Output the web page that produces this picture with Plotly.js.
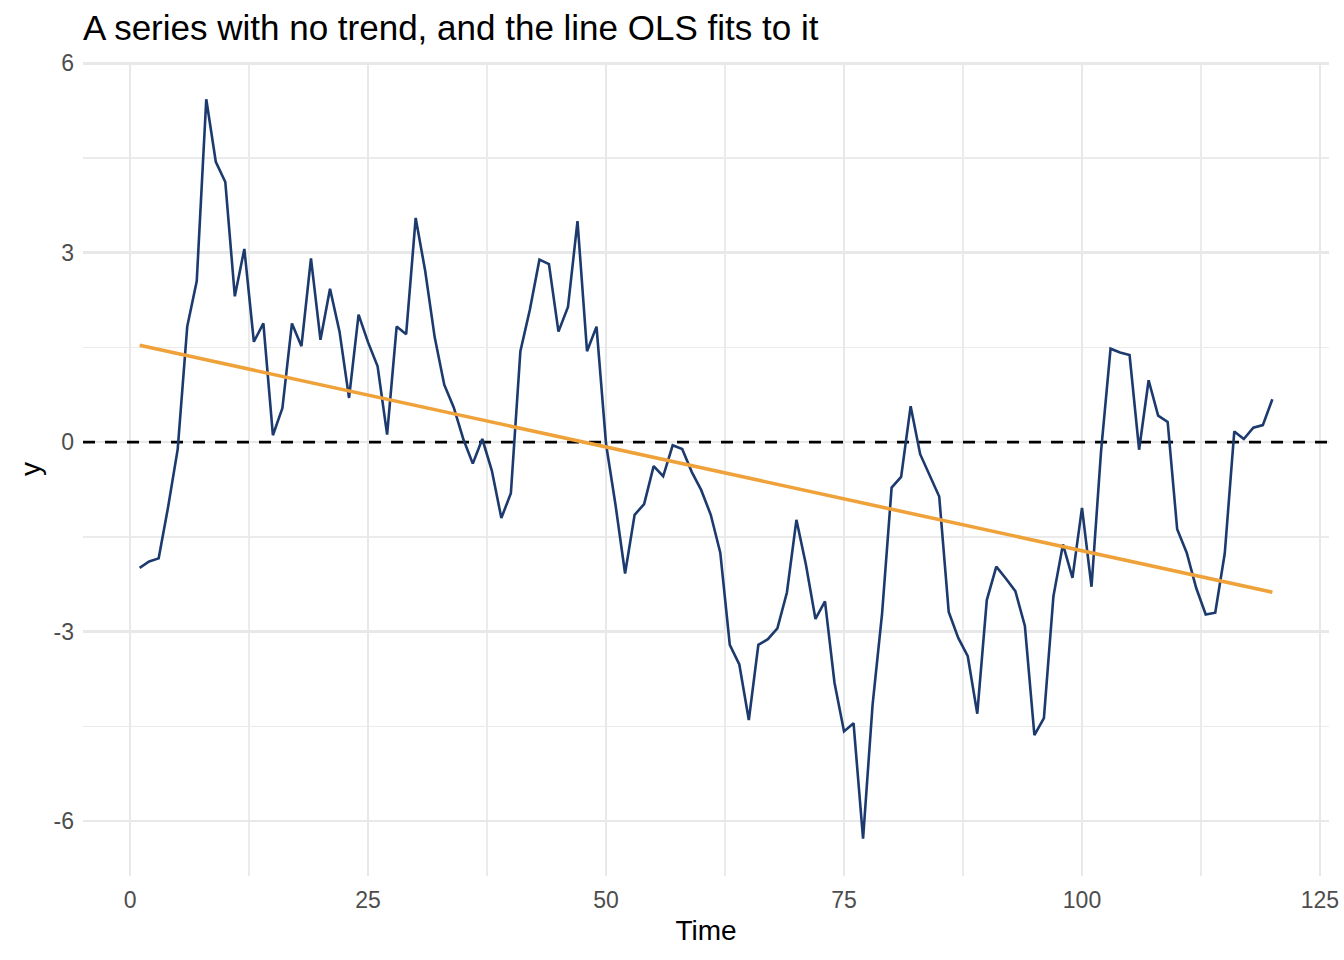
<!DOCTYPE html>
<html>
<head>
<meta charset="utf-8">
<script src="https://cdn.plot.ly/plotly-3.0.1.min.js"></script>
<style>
  body { margin: 0; background: #fff; }
  #chart { width: 1344px; height: 960px; }
</style>
</head>
<body>
<div id="chart"></div>
<script>
// series values, time = 1..120
const time = [];
for (let i = 1; i <= 120; i++) time.push(i);

const y = [
  -1.99, -1.89, -1.84, -1.02, -0.11, 1.83, 2.55, 5.43, 4.44, 4.12,
  2.31, 3.06, 1.59, 1.88, 0.11, 0.54, 1.88, 1.52, 2.91, 1.62,
  2.43, 1.75, 0.70, 2.02, 1.58, 1.20, 0.12, 1.83, 1.71, 3.55,
  2.71, 1.66, 0.91, 0.55, 0.05, -0.34, 0.05, -0.45, -1.20, -0.81,
  1.44, 2.10, 2.89, 2.82, 1.75, 2.14, 3.50, 1.44, 1.83, -0.03,
  -1.00, -2.08, -1.15, -0.98, -0.38, -0.54, -0.05, -0.11, -0.47, -0.76,
  -1.15, -1.75, -3.21, -3.52, -4.40, -3.21, -3.12, -2.95, -2.38, -1.23,
  -1.94, -2.80, -2.52, -3.81, -4.58, -4.45, -6.28, -4.16, -2.71, -0.72,
  -0.55, 0.57, -0.19, -0.52, -0.86, -2.69, -3.10, -3.39, -4.30, -2.50,
  -1.97, -2.16, -2.36, -2.91, -4.64, -4.37, -2.44, -1.62, -2.15, -1.04,
  -2.29, -0.15, 1.48, 1.42, 1.38, -0.12, 0.98, 0.42, 0.32, -1.38,
  -1.75, -2.31, -2.73, -2.70, -1.76, 0.17, 0.05, 0.23, 0.27, 0.68
];

const xTicks = [0, 25, 50, 75, 100, 125];
const yTicks = [-6, -3, 0, 3, 6];
const yTickText = ['-6', '-3', '0', '3', '6'];
const xRange = [-4.95, 125.95];
const yRange = [-6.87, 6.02];

// ordinary least squares fit of y on time
const olsFit = (xs, ys) => {
  const n = xs.length;
  const mx = xs.reduce((a, b) => a + b, 0) / n;
  const my = ys.reduce((a, b) => a + b, 0) / n;
  let sxy = 0, sxx = 0;
  xs.forEach((x, i) => {
    sxy += (x - mx) * (ys[i] - my);
    sxx += (x - mx) * (x - mx);
  });
  const slope = sxy / sxx;
  return xs.map(x => my + slope * (x - mx));
};

const fitted = olsFit(time, y);

// horizontal reference line at zero, across the whole panel
const zeroLine = {
  x: xRange, y: [0, 0], type: 'scatter', mode: 'lines',
  line: { color: '#000000', width: 2.6, dash: '12px,10px' },
  hoverinfo: 'skip'
};

const series = {
  x: time, y: y, type: 'scatter', mode: 'lines',
  line: { color: '#1c3a6e', width: 2.6 },
  hoverinfo: 'skip'
};

const fitLine = {
  x: time, y: fitted, type: 'scatter', mode: 'lines',
  line: { color: '#f0a23a', width: 3.6 },
  hoverinfo: 'skip'
};

const FONT = 'Liberation Sans, Arial, sans-serif';
const axisFont = { family: FONT, size: 23, color: '#4d4d4d' };

const layout = {
  width: 1344, height: 960,
  margin: { l: 83, r: 15, t: 62, b: 84 },
  paper_bgcolor: '#fff', plot_bgcolor: '#fff',
  showlegend: false,
  font: { family: FONT },
  title: {
    text: 'A series with no trend, and the line OLS fits to it',
    font: { family: FONT, size: 35, color: '#000' },
    xref: 'paper', x: 0, xanchor: 'left',
    yref: 'container', y: 1 - 28 / 960, yanchor: 'middle'
  },
  xaxis: {
    range: xRange,
    tickvals: xTicks,
    ticks: '', ticklabelstandoff: 8,
    tickfont: axisFont,
    showgrid: true, gridcolor: '#e8e8e8', gridwidth: 2.6,
    minor: { dtick: 12.5, tick0: 12.5, showgrid: true, gridcolor: '#ebebeb', gridwidth: 1.3 },
    zeroline: false, showline: false,
    title: { text: 'Time', font: { family: FONT, size: 28, color: '#000' }, standoff: 8 }
  },
  yaxis: {
    range: yRange,
    tickvals: yTicks, ticktext: yTickText,
    ticks: '', ticklabelstandoff: 8,
    tickfont: axisFont,
    showgrid: true, gridcolor: '#e8e8e8', gridwidth: 2.6,
    minor: { dtick: 1.5, tick0: 1.5, showgrid: true, gridcolor: '#ebebeb', gridwidth: 1.3 },
    zeroline: false, showline: false,
    title: { text: 'y', font: { family: FONT, size: 28, color: '#000' }, standoff: 4 }
  }
};

Plotly.newPlot('chart', [zeroLine, series, fitLine], layout, { staticPlot: true, displayModeBar: false });
</script>
</body>
</html>
